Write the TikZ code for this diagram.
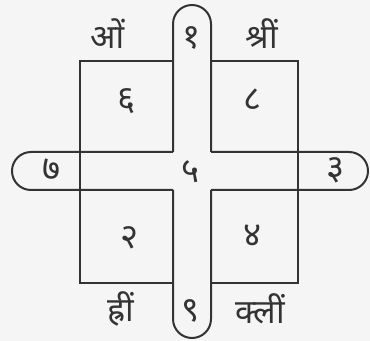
\documentclass[tikz,border=0pt]{standalone}
\usepackage{fontspec}
\newfontfamily\devfont[Script=Devanagari]{Noto Sans}
\usepackage{tikz}
\definecolor{inkgray}{rgb}{0.2,0.2,0.2}
\definecolor{papergray}{rgb}{0.96,0.96,0.96}

\begin{document}
\begin{tikzpicture}[x=0.75pt, y=-0.75pt,
	frame/.style={draw=inkgray, line width=1.5pt, line join=miter},
	num/.style={text=inkgray, font=\devfont\fontsize{26}{28}\selectfont, inner sep=0pt},
	word/.style={text=inkgray, font=\devfont\fontsize{25}{27}\selectfont, inner sep=0pt}
	]
\fill[papergray] (0,0) rectangle (370,341);
\useasboundingbox (0,0) rectangle (370,341);

% vertical band
\draw[frame] (173,152) -- (173,24) arc[start angle=180, end angle=360, radius=19] -- (211,152);
\draw[frame] (173,190) -- (173,319) arc[start angle=180, end angle=0, radius=19] -- (211,190);
% horizontal band
\draw[frame] (173,152) -- (31,152) arc[start angle=270, end angle=90, radius=19] -- (173,190);
\draw[frame] (211,152) -- (349,152) arc[start angle=-90, end angle=90, radius=19] -- (211,190);
% squares
\draw[frame] (173,61) -- (80,61) -- (80,283) -- (173,283);
\draw[frame] (211,61) -- (298,61) -- (298,283) -- (211,283);

\node[word] (om)    at (108,34)  {ओं};
\node[word] (shrim) at (262,34)  {श्रीं};
\node[word] (hrim)  at (121,309) {ह्रीं};
\node[word] (klim)  at (260,309) {क्लीं};

\node[num] (n1) at (192,38)  {१};
\node[num] (n6) at (127,101) {६};
\node[num] (n8) at (253,100) {८};
\node[num] (n7) at (52,170)  {७};
\node[num] (n5) at (191,172) {५};
\node[num] (n3) at (336,170) {३};
\node[num] (n2) at (130,238) {२};
\node[num] (n4) at (253,236) {४};
\node[num] (n9) at (191,311) {९};
\end{tikzpicture}
\end{document}
